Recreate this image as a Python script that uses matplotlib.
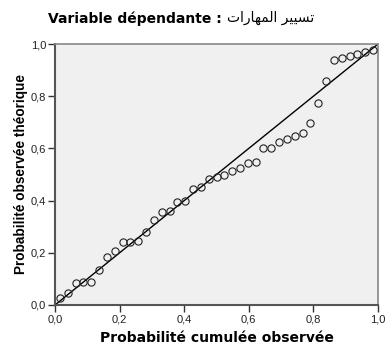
import matplotlib
matplotlib.use("Agg")
import matplotlib.pyplot as plt

obs_cum = [0.015, 0.039, 0.064, 0.088, 0.112, 0.136, 0.161, 0.185, 0.209, 0.233,
           0.258, 0.282, 0.306, 0.330, 0.355, 0.379, 0.403, 0.427, 0.452, 0.476,
           0.500, 0.524, 0.548, 0.573, 0.597, 0.621, 0.645, 0.670, 0.694, 0.718,
           0.742, 0.767, 0.791, 0.815, 0.839, 0.864, 0.888, 0.912, 0.936, 0.961, 0.985]
exp_cum = [0.028, 0.045, 0.085, 0.088, 0.088, 0.134, 0.185, 0.208, 0.240, 0.240,
           0.246, 0.278, 0.327, 0.357, 0.360, 0.396, 0.398, 0.443, 0.451, 0.483,
           0.492, 0.497, 0.512, 0.525, 0.543, 0.547, 0.602, 0.602, 0.625, 0.635,
           0.648, 0.658, 0.698, 0.773, 0.857, 0.940, 0.948, 0.955, 0.960, 0.968, 0.978]
ref_line = [0.0, 1.0]
tick_vals = [0.0, 0.2, 0.4, 0.6, 0.8, 1.0]
tick_labels = ["0,0", "0,2", "0,4", "0,6", "0,8", "1,0"]

title_fr = "Variable dépendante : "
# "تسيير المهارات" written in Arabic presentation forms, visual order
title_ar = "\uFE95\uFE8D\uFEAD\uFE8E\uFEEC\uFEE4\uFEDF\uFE8D \uFEAE\uFEF4\uFEF4\uFEB4\uFE97"
xlabel = "Probabilité cumulée observée"
ylabel = "Probabilité observée théorique"

W, H = 389, 346
fig = plt.figure(figsize=(W / 100, H / 100), dpi=100)
fig.patch.set_facecolor("white")
ax = fig.add_axes([55 / W, 1 - 305 / H, (378 - 55) / W, (305 - 44) / H])
ax.set_facecolor("#F0F0F0")

ax.plot(ref_line, ref_line, color="black", lw=1.0, zorder=2)
ax.plot(obs_cum, exp_cum, linestyle="none", marker="o", markersize=5.2,
        markerfacecolor="none", markeredgecolor="#222222", markeredgewidth=0.8, zorder=3)

ax.set_xlim(0, 1)
ax.set_ylim(0, 1)
ax.set_xticks(tick_vals)
ax.set_xticklabels(tick_labels)
ax.set_yticks(tick_vals)
ax.set_yticklabels(tick_labels)
ax.tick_params(axis="both", direction="out", length=5, width=1.0, color="#333333",
               labelsize=8, labelcolor="#222222", pad=1.5)
for lab in ax.get_xticklabels() + ax.get_yticklabels():
    lab.set_fontfamily(["Liberation Sans", "DejaVu Sans"])

for s in ["top", "right"]:
    ax.spines[s].set_color("#888888")
    ax.spines[s].set_linewidth(1.2)
for s in ["left", "bottom"]:
    ax.spines[s].set_color("#555555")
    ax.spines[s].set_linewidth(1.5)

ax.set_xlabel(xlabel, fontsize=10, fontweight="bold", family=["DejaVu Sans"], labelpad=5)
ax.set_ylabel(ylabel, fontsize=9.8, fontweight="bold", family=["Liberation Sans", "DejaVu Sans"], labelpad=2)

t1 = fig.text(48 / W, 1 - 19 / H, title_fr, fontsize=10, fontweight="bold",
              family=["DejaVu Sans"], ha="left", va="center")
fig.canvas.draw()
bb = t1.get_window_extent()
fig.text(bb.x1 / W, 1 - 18 / H, title_ar, fontsize=10, family=["DejaVu Sans"],
         ha="left", va="center")

fig.savefig("out.png", dpi=100, facecolor="white")
